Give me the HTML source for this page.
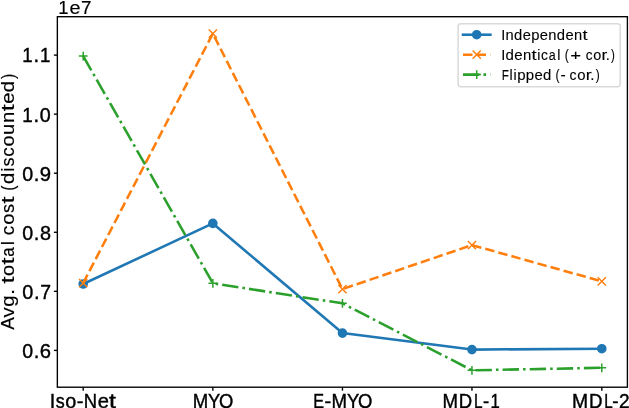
<!DOCTYPE html>
<html><head><meta charset="utf-8"><style>
html,body{margin:0;padding:0;background:#fff;width:629px;height:408px;overflow:hidden;}
svg{display:block;will-change:transform;}
text{font-family:"Liberation Sans", sans-serif;fill:#000;font-kerning:none;stroke:#000;stroke-width:0.4px;}
</style></head><body>
<svg width="629" height="408" viewBox="0 0 629 408">
<rect x="0" y="0" width="629" height="408" fill="#fff"/>
<polyline points="83.20,284.00 212.85,223.40 342.45,333.10 471.95,349.60 601.80,348.70" fill="none" stroke="#1f77b4" stroke-width="2.557" stroke-linejoin="round" stroke-linecap="square"/>
<circle cx="83.20" cy="284.00" r="3.95" fill="#1f77b4" stroke="#1f77b4" stroke-width="1.7"/>
<circle cx="212.85" cy="223.40" r="3.95" fill="#1f77b4" stroke="#1f77b4" stroke-width="1.7"/>
<circle cx="342.45" cy="333.10" r="3.95" fill="#1f77b4" stroke="#1f77b4" stroke-width="1.7"/>
<circle cx="471.95" cy="349.60" r="3.95" fill="#1f77b4" stroke="#1f77b4" stroke-width="1.7"/>
<circle cx="601.80" cy="348.70" r="3.95" fill="#1f77b4" stroke="#1f77b4" stroke-width="1.7"/>
<polyline points="83.20,283.10 212.85,33.60 342.45,289.10 471.95,245.10 601.80,281.30" fill="none" stroke="#ff7f0e" stroke-width="2.557" stroke-linejoin="round" stroke-dasharray="9.461 4.091"/>
<path d="M79.10 279.00L87.30 287.20M79.10 287.20L87.30 279.00" stroke="#ff7f0e" stroke-width="1.45" fill="none"/>
<path d="M208.75 29.50L216.95 37.70M208.75 37.70L216.95 29.50" stroke="#ff7f0e" stroke-width="1.45" fill="none"/>
<path d="M338.35 285.00L346.55 293.20M338.35 293.20L346.55 285.00" stroke="#ff7f0e" stroke-width="1.45" fill="none"/>
<path d="M467.85 241.00L476.05 249.20M467.85 249.20L476.05 241.00" stroke="#ff7f0e" stroke-width="1.45" fill="none"/>
<path d="M597.70 277.20L605.90 285.40M597.70 285.40L605.90 277.20" stroke="#ff7f0e" stroke-width="1.45" fill="none"/>
<polyline points="83.20,56.10 212.85,283.30 342.45,303.30 471.95,370.30 601.80,367.80" fill="none" stroke="#2ca02c" stroke-width="2.557" stroke-linejoin="round" stroke-dasharray="16.365 4.091 2.557 4.091"/>
<path d="M78.85 56.10H87.55M83.20 51.75V60.45" stroke="#2ca02c" stroke-width="1.5" fill="none"/>
<path d="M208.50 283.30H217.20M212.85 278.95V287.65" stroke="#2ca02c" stroke-width="1.5" fill="none"/>
<path d="M338.10 303.30H346.80M342.45 298.95V307.65" stroke="#2ca02c" stroke-width="1.5" fill="none"/>
<path d="M467.60 370.30H476.30M471.95 365.95V374.65" stroke="#2ca02c" stroke-width="1.5" fill="none"/>
<path d="M597.45 367.80H606.15M601.80 363.45V372.15" stroke="#2ca02c" stroke-width="1.5" fill="none"/>
<rect x="57.35" y="16.7" width="570.05" height="370.50" fill="none" stroke="#000" stroke-width="1.37"/>
<line x1="53.90" y1="55.10" x2="57.35" y2="55.10" stroke="#000" stroke-width="1.37"/>
<text y="62.10" font-size="19.3"><tspan x="22.23" textLength="10.39" lengthAdjust="spacingAndGlyphs">1</tspan><tspan x="33.56" textLength="5.58" lengthAdjust="spacingAndGlyphs">.</tspan><tspan x="39.93" textLength="10.39" lengthAdjust="spacingAndGlyphs">1</tspan></text>
<line x1="53.90" y1="114.16" x2="57.35" y2="114.16" stroke="#000" stroke-width="1.37"/>
<text y="121.55" font-size="19.3"><tspan x="22.22" textLength="10.45" lengthAdjust="spacingAndGlyphs">1</tspan><tspan x="33.63" textLength="5.61" lengthAdjust="spacingAndGlyphs">.</tspan><tspan x="39.87" textLength="10.95" lengthAdjust="spacingAndGlyphs">0</tspan></text>
<line x1="53.90" y1="173.22" x2="57.35" y2="173.22" stroke="#000" stroke-width="1.37"/>
<text y="180.70" font-size="19.3"><tspan x="22.28" textLength="10.93" lengthAdjust="spacingAndGlyphs">0</tspan><tspan x="33.83" textLength="5.60" lengthAdjust="spacingAndGlyphs">.</tspan><tspan x="39.83" textLength="11.29" lengthAdjust="spacingAndGlyphs">9</tspan></text>
<line x1="53.90" y1="232.28" x2="57.35" y2="232.28" stroke="#000" stroke-width="1.37"/>
<text y="239.55" font-size="19.3"><tspan x="22.28" textLength="10.91" lengthAdjust="spacingAndGlyphs">0</tspan><tspan x="33.82" textLength="5.60" lengthAdjust="spacingAndGlyphs">.</tspan><tspan x="39.98" textLength="11.03" lengthAdjust="spacingAndGlyphs">8</tspan></text>
<line x1="53.90" y1="291.34" x2="57.35" y2="291.34" stroke="#000" stroke-width="1.37"/>
<text y="298.85" font-size="19.3"><tspan x="22.27" textLength="11.04" lengthAdjust="spacingAndGlyphs">0</tspan><tspan x="33.94" textLength="5.66" lengthAdjust="spacingAndGlyphs">.</tspan><tspan x="40.33" textLength="10.80" lengthAdjust="spacingAndGlyphs">7</tspan></text>
<line x1="53.90" y1="350.40" x2="57.35" y2="350.40" stroke="#000" stroke-width="1.37"/>
<text y="357.60" font-size="19.3"><tspan x="22.29" textLength="10.87" lengthAdjust="spacingAndGlyphs">0</tspan><tspan x="33.78" textLength="5.57" lengthAdjust="spacingAndGlyphs">.</tspan><tspan x="39.79" textLength="11.25" lengthAdjust="spacingAndGlyphs">6</tspan></text>
<line x1="83.20" y1="387.20" x2="83.20" y2="390.65" stroke="#000" stroke-width="1.37"/>
<text y="407.78" font-size="19.3"><tspan x="49.78" textLength="5.49" lengthAdjust="spacingAndGlyphs">I</tspan><tspan x="55.79" textLength="8.95" lengthAdjust="spacingAndGlyphs">s</tspan><tspan x="65.20" textLength="11.04" lengthAdjust="spacingAndGlyphs">o</tspan><tspan x="76.79" textLength="6.70" lengthAdjust="spacingAndGlyphs">-</tspan><tspan x="83.83" textLength="13.32" lengthAdjust="spacingAndGlyphs">N</tspan><tspan x="97.66" textLength="11.22" lengthAdjust="spacingAndGlyphs">e</tspan><tspan x="109.10" textLength="6.93" lengthAdjust="spacingAndGlyphs">t</tspan></text>
<line x1="212.85" y1="387.20" x2="212.85" y2="390.65" stroke="#000" stroke-width="1.37"/>
<text y="407.78" font-size="19.3"><tspan x="192.63" textLength="15.46" lengthAdjust="spacingAndGlyphs">M</tspan><tspan x="207.95" textLength="12.25" lengthAdjust="spacingAndGlyphs">Y</tspan><tspan x="218.91" textLength="14.32" lengthAdjust="spacingAndGlyphs">O</tspan></text>
<line x1="342.45" y1="387.20" x2="342.45" y2="390.65" stroke="#000" stroke-width="1.37"/>
<text y="407.78" font-size="19.3"><tspan x="313.22" textLength="10.80" lengthAdjust="spacingAndGlyphs">E</tspan><tspan x="324.54" textLength="6.71" lengthAdjust="spacingAndGlyphs">-</tspan><tspan x="331.57" textLength="15.52" lengthAdjust="spacingAndGlyphs">M</tspan><tspan x="346.95" textLength="12.30" lengthAdjust="spacingAndGlyphs">Y</tspan><tspan x="357.96" textLength="14.37" lengthAdjust="spacingAndGlyphs">O</tspan></text>
<line x1="471.95" y1="387.20" x2="471.95" y2="390.65" stroke="#000" stroke-width="1.37"/>
<text y="407.78" font-size="19.3"><tspan x="442.62" textLength="15.50" lengthAdjust="spacingAndGlyphs">M</tspan><tspan x="458.78" textLength="13.41" lengthAdjust="spacingAndGlyphs">D</tspan><tspan x="473.93" textLength="8.58" lengthAdjust="spacingAndGlyphs">L</tspan><tspan x="483.08" textLength="6.14" lengthAdjust="spacingAndGlyphs">-</tspan><tspan x="490.53" textLength="9.29" lengthAdjust="spacingAndGlyphs">1</tspan></text>
<line x1="601.80" y1="387.20" x2="601.80" y2="390.65" stroke="#000" stroke-width="1.37"/>
<text y="407.78" font-size="19.3"><tspan x="572.06" textLength="16.13" lengthAdjust="spacingAndGlyphs">M</tspan><tspan x="588.96" textLength="13.53" lengthAdjust="spacingAndGlyphs">D</tspan><tspan x="604.15" textLength="8.45" lengthAdjust="spacingAndGlyphs">L</tspan><tspan x="612.16" textLength="6.27" lengthAdjust="spacingAndGlyphs">-</tspan><tspan x="619.04" textLength="10.62" lengthAdjust="spacingAndGlyphs">2</tspan></text>
<text style="stroke-width:0.15px" y="14.40" font-size="18.9"><tspan x="58.19" textLength="10.29" lengthAdjust="spacingAndGlyphs">1</tspan><tspan x="69.44" textLength="11.04" lengthAdjust="spacingAndGlyphs">e</tspan><tspan x="81.11" textLength="10.54" lengthAdjust="spacingAndGlyphs">7</tspan></text>
<g transform="translate(14.2 329.6) rotate(-90)">
<text style="stroke-width:0.15px" y="0.00" font-size="19.0"><tspan x="-0.04" textLength="12.66" lengthAdjust="spacingAndGlyphs">A</tspan><tspan x="12.13" textLength="10.17" lengthAdjust="spacingAndGlyphs">v</tspan><tspan x="22.97" textLength="11.39" lengthAdjust="spacingAndGlyphs">g</tspan><tspan x="34.90" textLength="5.66" lengthAdjust="spacingAndGlyphs">.</tspan> <tspan x="46.22" textLength="6.98" lengthAdjust="spacingAndGlyphs">t</tspan><tspan x="53.66" textLength="11.11" lengthAdjust="spacingAndGlyphs">o</tspan><tspan x="65.08" textLength="6.98" lengthAdjust="spacingAndGlyphs">t</tspan><tspan x="72.74" textLength="9.40" lengthAdjust="spacingAndGlyphs">a</tspan><tspan x="84.32" textLength="4.27" lengthAdjust="spacingAndGlyphs">l</tspan> <tspan x="94.39" textLength="9.48" lengthAdjust="spacingAndGlyphs">c</tspan><tspan x="104.74" textLength="11.17" lengthAdjust="spacingAndGlyphs">o</tspan><tspan x="116.62" textLength="9.05" lengthAdjust="spacingAndGlyphs">s</tspan><tspan x="126.07" textLength="7.01" lengthAdjust="spacingAndGlyphs">t</tspan> <tspan x="138.81" textLength="5.30" lengthAdjust="spacingAndGlyphs">(</tspan><tspan x="145.71" textLength="11.38" lengthAdjust="spacingAndGlyphs">d</tspan><tspan x="157.97" textLength="4.28" lengthAdjust="spacingAndGlyphs">i</tspan><tspan x="163.23" textLength="9.02" lengthAdjust="spacingAndGlyphs">s</tspan><tspan x="172.76" textLength="9.45" lengthAdjust="spacingAndGlyphs">c</tspan><tspan x="183.07" textLength="11.13" lengthAdjust="spacingAndGlyphs">o</tspan><tspan x="194.67" textLength="11.29" lengthAdjust="spacingAndGlyphs">u</tspan><tspan x="206.68" textLength="11.29" lengthAdjust="spacingAndGlyphs">n</tspan><tspan x="218.38" textLength="6.99" lengthAdjust="spacingAndGlyphs">t</tspan><tspan x="225.81" textLength="11.31" lengthAdjust="spacingAndGlyphs">e</tspan><tspan x="237.40" textLength="11.38" lengthAdjust="spacingAndGlyphs">d</tspan><tspan x="250.59" textLength="5.30" lengthAdjust="spacingAndGlyphs">)</tspan></text>
</g>
<rect x="458.1" y="23.7" width="162.1" height="63" rx="2.7" ry="2.7" fill="#fff" fill-opacity="0.8" stroke="#dadada" stroke-width="1.5"/>
<line x1="463.0" y1="34.7" x2="490.4" y2="34.7" stroke="#1f77b4" stroke-width="2.557" stroke-linecap="square"/>
<circle cx="476.70" cy="34.70" r="3.95" fill="#1f77b4" stroke="#1f77b4" stroke-width="1.7"/>
<line x1="463.0" y1="54.7" x2="490.4" y2="54.7" stroke="#ff7f0e" stroke-width="2.557" stroke-dasharray="9.461 4.091"/>
<path d="M472.60 50.60L480.80 58.80M472.60 58.80L480.80 50.60" stroke="#ff7f0e" stroke-width="1.45" fill="none"/>
<line x1="463.0" y1="74.6" x2="490.4" y2="74.6" stroke="#2ca02c" stroke-width="2.557" stroke-dasharray="16.365 4.091 2.557 4.091"/>
<path d="M472.35 74.60H481.05M476.70 70.25V78.95" stroke="#2ca02c" stroke-width="1.5" fill="none"/>
<text y="39.50" font-size="14.25" style="stroke-width:0.1px"><tspan x="501.32" textLength="4.01" lengthAdjust="spacingAndGlyphs">I</tspan><tspan x="505.60" textLength="8.18" lengthAdjust="spacingAndGlyphs">n</tspan><tspan x="514.11" textLength="8.25" lengthAdjust="spacingAndGlyphs">d</tspan><tspan x="522.77" textLength="8.19" lengthAdjust="spacingAndGlyphs">e</tspan><tspan x="531.31" textLength="8.25" lengthAdjust="spacingAndGlyphs">p</tspan><tspan x="539.82" textLength="8.19" lengthAdjust="spacingAndGlyphs">e</tspan><tspan x="548.35" textLength="8.18" lengthAdjust="spacingAndGlyphs">n</tspan><tspan x="556.86" textLength="8.25" lengthAdjust="spacingAndGlyphs">d</tspan><tspan x="565.52" textLength="8.19" lengthAdjust="spacingAndGlyphs">e</tspan><tspan x="574.04" textLength="8.18" lengthAdjust="spacingAndGlyphs">n</tspan><tspan x="582.52" textLength="5.07" lengthAdjust="spacingAndGlyphs">t</tspan></text>
<text y="59.55" font-size="14.25" style="stroke-width:0.1px"><tspan x="501.30" textLength="4.07" lengthAdjust="spacingAndGlyphs">I</tspan><tspan x="505.51" textLength="8.37" lengthAdjust="spacingAndGlyphs">d</tspan><tspan x="514.30" textLength="8.32" lengthAdjust="spacingAndGlyphs">e</tspan><tspan x="522.96" textLength="8.31" lengthAdjust="spacingAndGlyphs">n</tspan><tspan x="531.56" textLength="5.14" lengthAdjust="spacingAndGlyphs">t</tspan><tspan x="537.26" textLength="3.15" lengthAdjust="spacingAndGlyphs">i</tspan><tspan x="540.92" textLength="6.95" lengthAdjust="spacingAndGlyphs">c</tspan><tspan x="548.67" textLength="6.93" lengthAdjust="spacingAndGlyphs">a</tspan><tspan x="557.20" textLength="3.15" lengthAdjust="spacingAndGlyphs">l</tspan> <tspan x="564.65" textLength="4.05" lengthAdjust="spacingAndGlyphs">(</tspan><tspan x="570.39" textLength="10.82" lengthAdjust="spacingAndGlyphs">+</tspan> <tspan x="585.72" textLength="6.82" lengthAdjust="spacingAndGlyphs">c</tspan><tspan x="593.17" textLength="8.04" lengthAdjust="spacingAndGlyphs">o</tspan><tspan x="601.43" textLength="5.80" lengthAdjust="spacingAndGlyphs">r</tspan><tspan x="605.80" textLength="4.09" lengthAdjust="spacingAndGlyphs">.</tspan><tspan x="611.03" textLength="3.83" lengthAdjust="spacingAndGlyphs">)</tspan></text>
<text y="79.50" font-size="14.25" style="stroke-width:0.1px"><tspan x="501.68" textLength="7.21" lengthAdjust="spacingAndGlyphs">F</tspan><tspan x="509.57" textLength="3.13" lengthAdjust="spacingAndGlyphs">l</tspan><tspan x="513.40" textLength="3.13" lengthAdjust="spacingAndGlyphs">i</tspan><tspan x="517.15" textLength="8.33" lengthAdjust="spacingAndGlyphs">p</tspan><tspan x="525.89" textLength="8.33" lengthAdjust="spacingAndGlyphs">p</tspan><tspan x="534.47" textLength="8.27" lengthAdjust="spacingAndGlyphs">e</tspan><tspan x="542.94" textLength="8.32" lengthAdjust="spacingAndGlyphs">d</tspan> <tspan x="555.44" textLength="4.07" lengthAdjust="spacingAndGlyphs">(</tspan><tspan x="560.61" textLength="5.18" lengthAdjust="spacingAndGlyphs">-</tspan> <tspan x="569.50" textLength="7.04" lengthAdjust="spacingAndGlyphs">c</tspan><tspan x="577.19" textLength="8.30" lengthAdjust="spacingAndGlyphs">o</tspan><tspan x="585.71" textLength="5.99" lengthAdjust="spacingAndGlyphs">r</tspan><tspan x="590.23" textLength="4.22" lengthAdjust="spacingAndGlyphs">.</tspan><tspan x="595.63" textLength="3.95" lengthAdjust="spacingAndGlyphs">)</tspan></text>
</svg>
</body></html>
